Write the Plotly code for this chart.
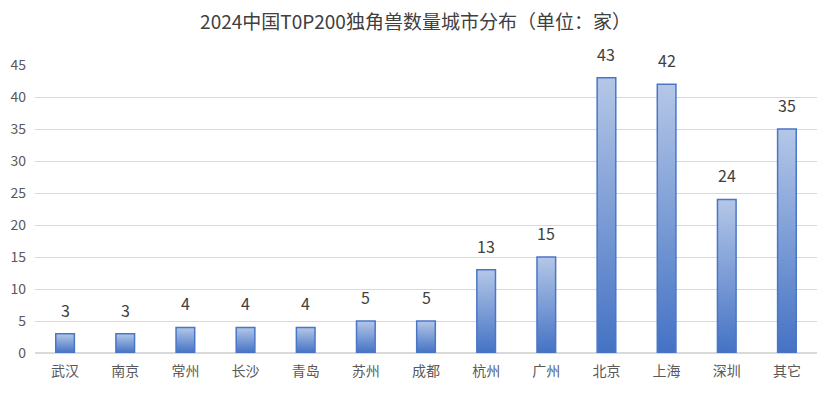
import plotly.graph_objects as go

cities = ["武汉", "南京", "常州", "长沙", "青岛", "苏州", "成都", "杭州", "广州", "北京", "上海", "深圳", "其它"]
counts = [3, 3, 4, 4, 4, 5, 5, 13, 15, 43, 42, 24, 35]
y_ticks = [0, 5, 10, 15, 20, 25, 30, 35, 40, 45]

FONT = "Noto Sans CJK SC"
BAR_W = 0.31
DARK = "#4472c4"
LIGHT = "#b4c7e7"

fig = go.Figure()
for i, v in enumerate(counts):
    x0, x1 = i - BAR_W / 2, i + BAR_W / 2
    fig.add_trace(go.Scatter(
        x=[x0, x1, x1, x0, x0], y=[0, 0, v, v, 0],
        mode="lines", fill="toself",
        fillgradient=dict(type="vertical", colorscale=[[0, DARK], [1, LIGHT]]),
        line=dict(color="#4a76c8", width=1.5),
        showlegend=False, hoverinfo="skip",
    ))

for i, v in enumerate(counts):
    fig.add_annotation(x=i, y=v, text=str(v), showarrow=False,
                       yanchor="bottom", yshift=10,
                       font=dict(family=FONT, size=16, color="#404040"))

fig.update_layout(
    width=831, height=394,
    margin=dict(l=35, r=14, t=65, b=41),
    paper_bgcolor="white", plot_bgcolor="white",
    title=dict(text="2024中国T0P200独角兽数量城市分布（单位：家）",
               x=0.5, xanchor="center", y=0.944, yanchor="middle",
               font=dict(family=FONT, size=19, color="#404040")),
    font=dict(family=FONT, color="#595959", size=13),
)
fig.update_xaxes(range=[-0.5, len(cities) - 0.5], tickvals=list(range(len(cities))),
                 ticktext=cities, showgrid=False, zeroline=False, automargin=False,
                 showline=False, ticks="", ticklabelstandoff=8,
                 tickfont=dict(family=FONT, size=14, color="#595959"))
fig.update_yaxes(range=[0, 45], tickvals=y_ticks, showgrid=True, gridcolor="#d9d9d9",
                 gridwidth=1, zeroline=True, zerolinecolor="#d9d9d9", zerolinewidth=1.5,
                 ticks="", ticklabelstandoff=8, automargin=False,
                 tickfont=dict(family=FONT, size=14, color="#595959"))

fig.write_html("out.html", config={"displayModeBar": False},
               post_script="document.body.style.margin='0';")
